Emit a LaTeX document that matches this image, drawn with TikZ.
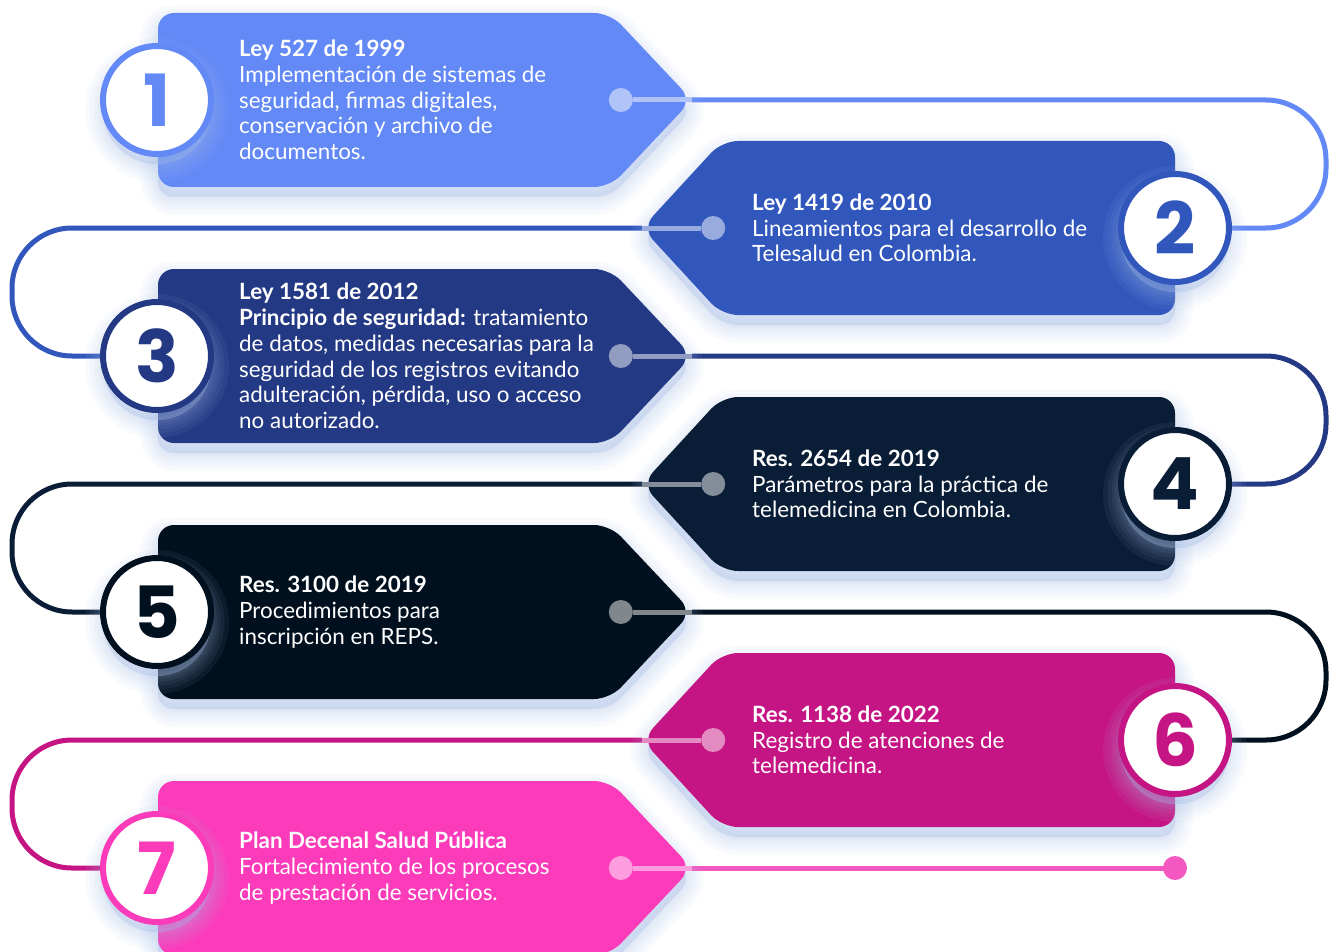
\documentclass[tikz,border=0pt]{standalone}
\usepackage{fontspec}
\setmainfont{Lato}
\newfontfamily\numfont{Poppins}
\usetikzlibrary{positioning}

\definecolor{lawA}{HTML}{6289F6}
\definecolor{lawB}{HTML}{3157BD}
\definecolor{lawC}{HTML}{243984}
\definecolor{lawD}{HTML}{0A1D36}
\definecolor{lawE}{HTML}{01101E}
\definecolor{lawF}{HTML}{C51584}
\definecolor{lawG}{HTML}{FB3BBA}
\definecolor{endc}{HTML}{F357C0}
\definecolor{glow}{HTML}{A9C0EA}

\begin{document}
\begin{tikzpicture}[x=1pt, y=-1pt,
	% soft bluish shadow, stacked halos
	halo/.style = {preaction={fill=glow, draw=glow, line join=round,
		opacity=.07, line width=#1, transform canvas={yshift=-10pt}}},
	soft/.style = {halo=36pt, halo=27pt, halo=19pt, halo=12pt, halo=6pt, halo=1pt},
	card/.style = {rounded corners=16pt, soft},
	conn/.style = {draw=#1, line width=5pt, rounded corners=60pt},
	numc/.style = {circle, draw=#1, line width=6pt, fill=white,
		minimum size=108pt, inner sep=0pt, text=#1, soft,
		font=\numfont\bfseries\fontsize{72}{72}\selectfont},
	txt/.style = {anchor=west, align=left, text=white, inner sep=0pt,
		font=\fontsize{22.4}{25.7}\selectfont},
	knob/.style = {circle, fill=#1!50!white, minimum size=24pt, inner sep=0pt},
	stub/.style = {draw=#1!50!white, line width=5pt}]

	\useasboundingbox (0,0) rectangle (1330,952);
	\fill[white] (0,0) rectangle (1330,952);

	% turning points of the loops
	\coordinate (R) at (1326,0);
	\coordinate (L) at (12,0);

	% tips and circle centres, left and right rows
	\foreach \i/\y in {1/100, 3/356, 5/612, 7/868} {
		\coordinate (p\i) at (692,\y);
		\coordinate (o\i) at (157,\y);
	}
	\foreach \i/\y in {2/228, 4/484, 6/740} {
		\coordinate (p\i) at (642,\y);
		\coordinate (o\i) at (1175,\y);
	}
	\coordinate (e7) at (1175,868);

	% the path running through all steps
	\draw[conn=lawA] (p1) -| (R |- o2) -- (o2);
	\draw[conn=lawB] (p2) -| (L |- o3) -- (o3);
	\draw[conn=lawC] (p3) -| (R |- o4) -- (o4);
	\draw[conn=lawD] (p4) -| (L |- o5) -- (o5);
	\draw[conn=lawE] (p5) -| (R |- o6) -- (o6);
	\draw[conn=lawF] (p6) -| (L |- o7) -- (o7);
	\draw[line width=5pt, endc] (p7) -- (e7);
	\fill[endc] (e7) circle[radius=12];

	% cards
	\foreach \i/\y/\c in {1/100/lawA, 3/356/lawC, 5/612/lawE, 7/868/lawG}
		\fill[card, \c] (158,\y-87) -- (610,\y-87) -- (p\i) -- (610,\y+87)
			-- (158,\y+87) -- cycle;
	\foreach \i/\y/\c in {2/228/lawB, 4/484/lawD, 6/740/lawF}
		\fill[card, \c] (p\i) -- (722,\y-87) -- (1175,\y-87) -- (1175,\y+87)
			-- (722,\y+87) -- cycle;

	% knobs on the cards
	\foreach \i/\c in {1/lawA, 3/lawC, 5/lawE, 7/lawG} {
		\node[knob=\c, left=59pt of p\i] (d\i) {};
		\draw[stub=\c] (d\i) -- (p\i);
	}
	\foreach \i/\c in {2/lawB, 4/lawD, 6/lawF} {
		\node[knob=\c, right=59pt of p\i] (d\i) {};
		\draw[stub=\c] (d\i) -- (p\i);
	}

	% numbers
	\node[numc=lawA] (n1) at (o1) {1};
	\node[numc=lawB] (n2) at (o2) {2};
	\node[numc=lawC] (n3) at (o3) {3};
	\node[numc=lawD] (n4) at (o4) {4};
	\node[numc=lawE] (n5) at (o5) {5};
	\node[numc=lawF] (n6) at (o6) {6};
	\node[numc=lawG] (n7) at (o7) {7};

	% texts
	\node[txt, right=82pt of o1] (t1) {\textbf{Ley 527 de 1999}\\
		Implementación de sistemas de\\seguridad, firmas digitales,\\
		conservación y archivo de\\documentos.};
	\node[txt, right=110pt of p2] (t2) {\textbf{Ley 1419 de 2010}\\
		Lineamientos para el desarrollo de\\Telesalud en Colombia.};
	\node[txt, right=82pt of o3] (t3) {\textbf{Ley 1581 de 2012}\\
		\textbf{Principio de seguridad:} tratamiento\\
		de datos, medidas necesarias para la\\
		seguridad de los registros evitando\\
		adulteración, pérdida, uso o acceso\\no autorizado.};
	\node[txt, right=110pt of p4] (t4) {\textbf{Res. 2654 de 2019}\\
		Parámetros para la práctica de\\telemedicina en Colombia.};
	\node[txt, right=82pt of o5] (t5) {\textbf{Res. 3100 de 2019}\\
		Procedimientos para\\inscripción en REPS.};
	\node[txt, right=110pt of p6] (t6) {\textbf{Res. 1138 de 2022}\\
		Registro de atenciones de\\telemedicina.};
	\node[txt, right=82pt of o7] (t7) {\textbf{Plan Decenal Salud Pública}\\
		Fortalecimiento de los procesos\\de prestación de servicios.};
\end{tikzpicture}
\end{document}
